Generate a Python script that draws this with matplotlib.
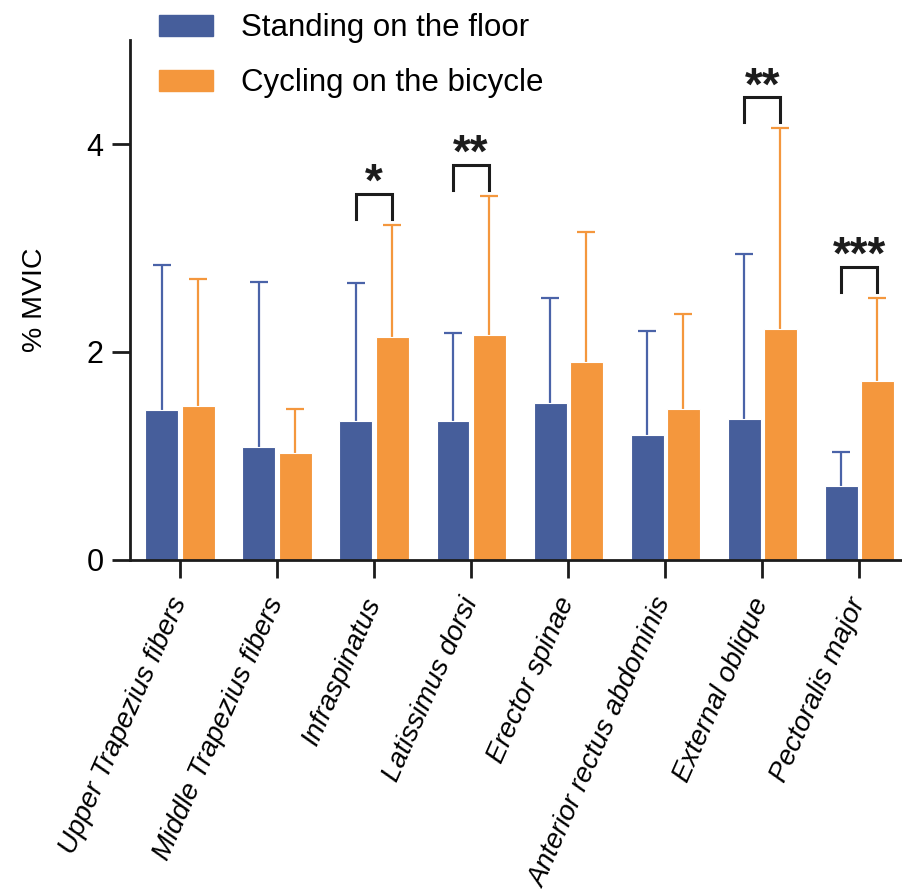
import matplotlib
matplotlib.use("Agg")
import matplotlib.pyplot as plt
import numpy as np
from matplotlib.patches import Patch

plt.rcParams['font.family'] = ['Liberation Sans', 'DejaVu Sans']

muscles = ["Upper Trapezius fibers", "Middle Trapezius fibers", "Infraspinatus",
           "Latissimus dorsi", "Erector spinae", "Anterior rectus abdominis",
           "External oblique", "Pectoralis major"]
floor_mean = [1.44, 1.09, 1.34, 1.34, 1.51, 1.20, 1.36, 0.71]
floor_sd = [1.40, 1.58, 1.32, 0.84, 1.01, 1.00, 1.58, 0.33]
bike_mean = [1.48, 1.03, 2.14, 2.16, 1.90, 1.45, 2.22, 1.72]
bike_sd = [1.22, 0.42, 1.08, 1.34, 1.25, 0.92, 1.93, 0.80]
sig_index = [2, 3, 6, 7]
sig_label = ["*", "**", "**", "***"]

blue = "#465e9b"
orange = "#f4973d"
dark = "#1c1c1c"

fig = plt.figure(figsize=(9.03, 8.91), dpi=100)
ax = fig.add_axes([0.144, 0.3715, 0.856, 0.5836])

x = np.arange(len(muscles))
w = 0.34
off = 0.187

# error bars sit behind the bars so only the upper half shows
ax.errorbar(x - off, floor_mean, yerr=floor_sd, fmt="none",
            ecolor="#4a63a8", elinewidth=1.6, capsize=6.5, capthick=1.6, zorder=1)
ax.errorbar(x + off, bike_mean, yerr=bike_sd, fmt="none",
            ecolor=orange, elinewidth=1.6, capsize=6.5, capthick=1.6, zorder=1)
ax.bar(x - off, floor_mean, w, color=blue, edgecolor="white", linewidth=0.8, zorder=2)
ax.bar(x + off, bike_mean, w, color=orange, edgecolor="white", linewidth=0.8, zorder=2)

# significance brackets
for i, lab in zip(sig_index, sig_label):
    y0 = bike_mean[i] + bike_sd[i] + 0.06
    y1 = y0 + 0.24
    ax.plot([i - off, i - off, i + off, i + off], [y0, y1, y1, y0],
            color=dark, lw=2.2, solid_joinstyle="miter", clip_on=False)
    ax.text(i, y1 - 0.02, lab, ha="center", va="baseline", fontsize=33,
            fontweight="bold", color=dark, clip_on=False)

ax.set_xlim(-0.515, 7.45)
ax.set_ylim(0, 5)
ax.set_yticks([0, 2, 4])
ax.set_xticks(x)
ax.set_xticklabels(muscles, rotation=66, ha="right", va="center",
                   rotation_mode="anchor", fontstyle="italic", fontsize=20)
ax.tick_params(axis="y", labelsize=22, length=13, width=2, color=dark, pad=6)
ax.tick_params(axis="x", length=13, width=2, color=dark, pad=15)
ax.set_ylabel("% MVIC", fontsize=20.5, labelpad=28)

for s in ["top", "right"]:
    ax.spines[s].set_visible(False)
for s in ["left", "bottom"]:
    ax.spines[s].set_linewidth(2)
    ax.spines[s].set_color(dark)

handles = [Patch(color=blue), Patch(color=orange)]
fig.legend(handles, ["Standing on the floor", "Cycling on the bicycle"],
           loc="upper left", bbox_to_anchor=(0.1697, 0.992), frameon=False,
           fontsize=22.5, handlelength=1.7, handleheight=0.62, handletextpad=0.91,
           labelspacing=0.8, borderpad=0.2, borderaxespad=0)

fig.savefig("out.png", dpi=100)
